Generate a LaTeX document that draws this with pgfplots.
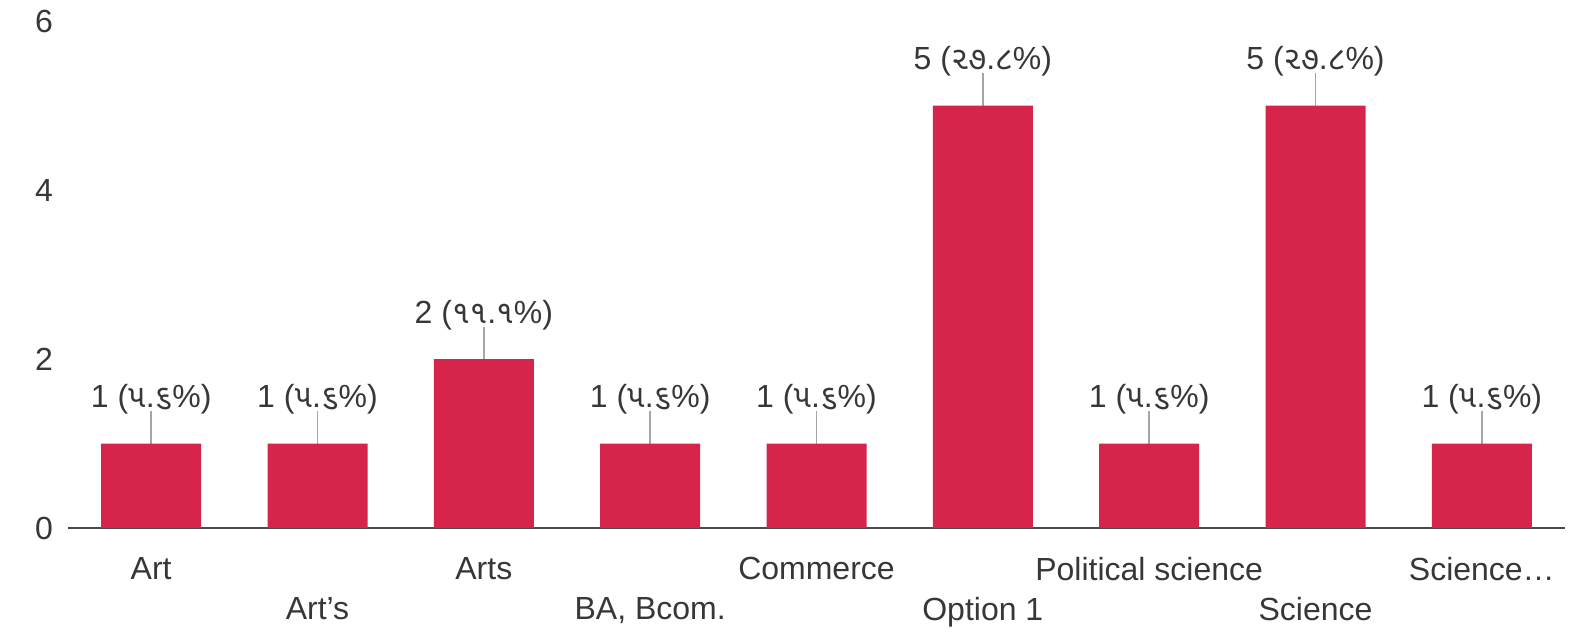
\documentclass[border=0pt]{standalone}
\usepackage{pgfplots}
\pgfplotsset{compat=1.18}
\usepackage{fontspec}
\setmainfont{Liberation Sans}
\newfontfamily\guj[Script=Gujarati]{Noto Sans Gujarati UI}
\definecolor{barred}{RGB}{214,36,74}
\definecolor{txt}{RGB}{55,55,55}
\newcommand\la{1 ({\guj ૫}.{\guj ૬}\%)}
\newcommand\lb{2 ({\guj ૧૧}.{\guj ૧}\%)}
\newcommand\lc{5 ({\guj ૨૭}.{\guj ૮}\%)}
\begin{document}
\begin{tikzpicture}
\path[use as bounding box] (-34pt,-54.5pt) rectangle (756.5pt,264pt);
\begin{axis}[
 at={(0pt,0pt)}, anchor=south west,
 scale only axis, width=748.5pt, height=253.5pt,
 xmin=-0.5, xmax=8.5, ymin=0, ymax=6,
 axis x line*=bottom, axis y line*=left,
 y axis line style={draw=none},
 x axis line style={draw=txt!90, line width=1pt},
 major tick length=0pt,
 ytick={0,2,4,6},
 yticklabel style={xshift=-4pt},
 xtick={0,2,4,6,8},
 xticklabels={Art,Arts,Commerce,Political science,Science\ldots},
 extra x ticks={1,3,5,7},
 extra x tick labels={Art's,{BA, Bcom.},Option 1,Science},
 extra x tick style={xticklabel style={yshift=-20pt}, grid=none},
 xticklabel style={yshift=-11pt},
 tick label style={font=\fontsize{16}{19}\selectfont, text=txt},
 /pgf/number format/assume math mode=true,
 clip=false,
]
\addplot[draw=none, mark=none, forget plot,
  error bars/.cd, y dir=plus, y explicit, error mark=none,
  error bar style={draw=gray!70, line width=0.7pt}]
  table[x=x, y=y, y error=e] {
x y e
0 1 0.38
1 1 0.38
2 2 0.38
3 1 0.38
4 1 0.38
5 5 0.38
6 1 0.38
7 5 0.38
8 1 0.38
};
\addplot[ybar, bar width=50pt, fill=barred, draw=none,
  point meta=explicit symbolic, nodes near coords,
  nodes near coords style={anchor=south, yshift=11pt, font=\fontsize{16}{19}\selectfont, text=txt}]
  coordinates {(0,1)[\la] (1,1)[\la] (2,2)[\lb] (3,1)[\la] (4,1)[\la] (5,5)[\lc] (6,1)[\la] (7,5)[\lc] (8,1)[\la]};
\end{axis}
\end{tikzpicture}
\end{document}
